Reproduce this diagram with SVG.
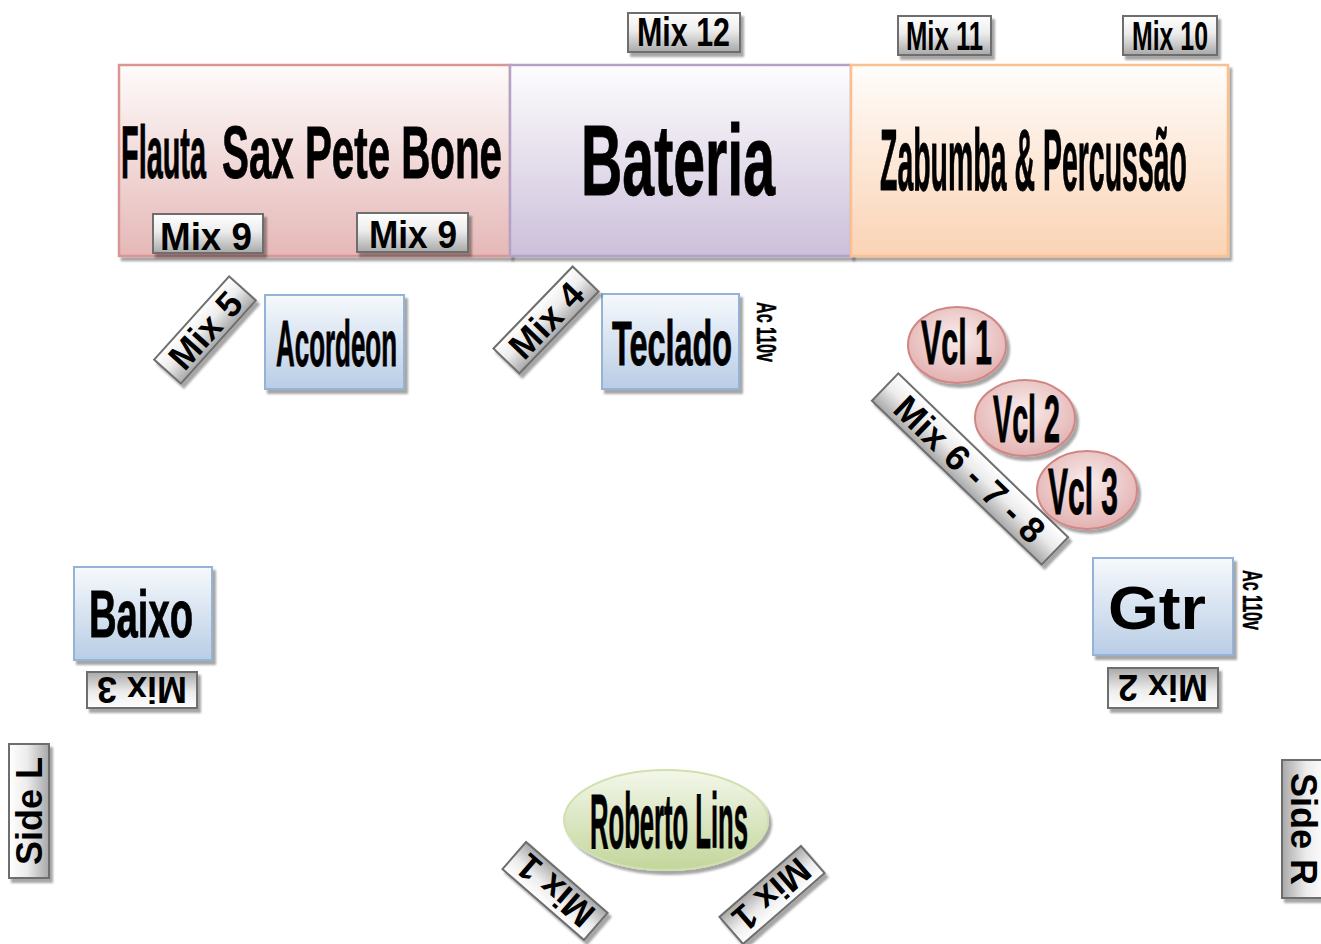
<svg xmlns="http://www.w3.org/2000/svg" width="1321" height="944" viewBox="0 0 1321 944">
<defs>
<linearGradient id="gMon" x1="0" y1="0" x2="0" y2="1"><stop offset="0" stop-color="#ffffff"/><stop offset="0.45" stop-color="#ececec"/><stop offset="1" stop-color="#a8a8a8"/></linearGradient>
<linearGradient id="gPink" x1="0" y1="0" x2="0" y2="1"><stop offset="0" stop-color="#fefbfb"/><stop offset="1" stop-color="#e5b8b7"/></linearGradient>
<linearGradient id="gPurple" x1="0" y1="0" x2="0" y2="1"><stop offset="0" stop-color="#fefdfe"/><stop offset="1" stop-color="#ccc0da"/></linearGradient>
<linearGradient id="gOrange" x1="0" y1="0" x2="0" y2="1"><stop offset="0" stop-color="#fffdfb"/><stop offset="1" stop-color="#fad3b4"/></linearGradient>
<linearGradient id="gBlue" x1="0" y1="0" x2="0" y2="1"><stop offset="0" stop-color="#f6f9fc"/><stop offset="1" stop-color="#b9cde5"/></linearGradient>
<radialGradient id="gVcl" cx="0.5" cy="0.4" r="0.6"><stop offset="0" stop-color="#f9eded"/><stop offset="1" stop-color="#e3b2b1"/></radialGradient>
<linearGradient id="gGreen" x1="0" y1="0" x2="0" y2="1"><stop offset="0" stop-color="#f3f7ea"/><stop offset="1" stop-color="#c3d69b"/></linearGradient>
<filter id="sh" x="-20%" y="-20%" width="140%" height="140%"><feDropShadow dx="3" dy="4" stdDeviation="1.2" flood-color="#000" flood-opacity="0.35"/></filter>
<style>
text{font-family:"Liberation Sans",Arial,sans-serif;font-weight:bold;fill:#000}
.big{stroke:#000;stroke-width:0.9}
.mon{fill:url(#gMon);stroke:#6e6e6e;stroke-width:2}
.blue{fill:url(#gBlue);stroke:#95b3d7;stroke-width:2}
.vcl{fill:url(#gVcl);stroke:#d08684;stroke-width:2}
.mt{font-size:36px;text-anchor:middle}
</style>
</defs>
<rect width="1321" height="944" fill="#ffffff"/>
<g id="connectors"/>

<g id="sopros">
<rect x="119" y="65" width="391" height="191" fill="url(#gPink)" stroke="#d99694" stroke-width="2.5" filter="url(#sh)"/>
<text class="big" x="121" y="178" font-size="74" textLength="85" lengthAdjust="spacingAndGlyphs">Flauta</text>
<text class="big" x="222" y="178" font-size="74" textLength="280" lengthAdjust="spacingAndGlyphs">Sax Pete Bone</text>
</g>
<g id="bateria">
<rect x="510" y="65" width="341" height="191" fill="url(#gPurple)" stroke="#b3a2c7" stroke-width="2.5" filter="url(#sh)"/>
<text class="big" x="581" y="195" font-size="101" textLength="194" lengthAdjust="spacingAndGlyphs">Bateria</text>
</g>
<g id="zabumba">
<rect x="851" y="65" width="377" height="191" fill="url(#gOrange)" stroke="#fac090" stroke-width="2.5" filter="url(#sh)"/>
<text class="big" x="880" y="190" font-size="87" textLength="307" lengthAdjust="spacingAndGlyphs">Zabumba &amp; Percussão</text>
</g>

<g id="mix12"><rect class="mon" x="628" y="13" width="112" height="39" filter="url(#sh)"/>
<text x="637" y="46" font-size="40" textLength="93" lengthAdjust="spacingAndGlyphs">Mix 12</text></g>
<g id="mix11"><rect class="mon" x="898" y="16" width="93" height="39" filter="url(#sh)"/>
<text x="906" y="50" font-size="41" textLength="77" lengthAdjust="spacingAndGlyphs">Mix 11</text></g>
<g id="mix10"><rect class="mon" x="1123" y="16" width="94" height="39" filter="url(#sh)"/>
<text x="1132" y="50" font-size="41" textLength="76" lengthAdjust="spacingAndGlyphs">Mix 10</text></g>
<g id="mix9a"><rect class="mon" x="153" y="214" width="110" height="39" filter="url(#sh)"/>
<text x="160" y="250" font-size="39" textLength="92" lengthAdjust="spacingAndGlyphs">Mix 9</text></g>
<g id="mix9b"><rect class="mon" x="357" y="213" width="111" height="39" filter="url(#sh)"/>
<text x="369" y="248" font-size="38" textLength="88" lengthAdjust="spacingAndGlyphs">Mix 9</text></g>

<g id="acordeon"><rect class="blue" x="265" y="295" width="139" height="94" filter="url(#sh)"/>
<text class="big" x="276" y="366" font-size="64" textLength="121" lengthAdjust="spacingAndGlyphs">Acordeon</text></g>
<g id="mix5"><g filter="url(#sh)"><rect class="mon" x="-56" y="-18" width="112" height="36" transform="translate(205,330) rotate(-48)"/></g>
<text class="mt" transform="translate(205,330) rotate(-48)" y="13">Mix 5</text></g>

<g id="teclado"><rect class="blue" x="602" y="294" width="137" height="95" filter="url(#sh)"/>
<text class="big" x="612" y="365" font-size="63" textLength="120" lengthAdjust="spacingAndGlyphs">Teclado</text>
<text class="big" transform="translate(757,302) rotate(90)" font-size="28" textLength="60" lengthAdjust="spacingAndGlyphs" style="stroke-width:0.5">Ac 110v</text></g>
<g id="mix4"><g filter="url(#sh)"><rect class="mon" x="-57" y="-18" width="114" height="36" transform="translate(546,320) rotate(-46)"/></g>
<text class="mt" transform="translate(546,320) rotate(-46)" y="13">Mix 4</text></g>

<g id="mix678"><g filter="url(#sh)"><rect class="mon" x="-118" y="-19" width="236" height="38" transform="translate(970,469) rotate(44)"/></g>
<text class="mt" transform="translate(970,469) rotate(44)" y="13">Mix 6 - 7 - 8</text></g>
<g id="vcl1"><ellipse class="vcl" cx="957" cy="345" rx="49" ry="38" filter="url(#sh)"/>
<text class="big" x="921" y="364" font-size="63" textLength="71" lengthAdjust="spacingAndGlyphs">Vcl 1</text></g>
<g id="vcl2"><ellipse class="vcl" cx="1025" cy="418" rx="50" ry="38" filter="url(#sh)"/>
<text class="big" x="993" y="442" font-size="66" textLength="67" lengthAdjust="spacingAndGlyphs">Vcl 2</text></g>
<g id="vcl3"><ellipse class="vcl" cx="1087" cy="490" rx="50" ry="39" filter="url(#sh)"/>
<text class="big" x="1048" y="514" font-size="65" textLength="70" lengthAdjust="spacingAndGlyphs">Vcl 3</text></g>

<g id="baixo"><rect class="blue" x="74" y="567" width="138" height="93" filter="url(#sh)"/>
<text class="big" x="89" y="637" font-size="66" textLength="104" lengthAdjust="spacingAndGlyphs">Baixo</text></g>
<g id="mix3"><g filter="url(#sh)"><rect class="mon" x="-55" y="-18" width="110" height="36" transform="translate(142,690) rotate(180)"/></g>
<text class="mt" transform="translate(142,690) rotate(180)" y="13">Mix 3</text></g>

<g id="gtr"><rect class="blue" x="1093" y="558" width="140" height="97" filter="url(#sh)"/>
<text x="1108" y="629" font-size="62" textLength="98" lengthAdjust="spacingAndGlyphs">Gtr</text>
<text class="big" transform="translate(1243,570) rotate(90)" font-size="28" textLength="60" lengthAdjust="spacingAndGlyphs" style="stroke-width:0.5">Ac 110v</text></g>
<g id="mix2"><g filter="url(#sh)"><rect class="mon" x="-55" y="-20" width="110" height="40" transform="translate(1163,688) rotate(180)"/></g>
<text class="mt" transform="translate(1163,688) rotate(180)" y="13">Mix 2</text></g>

<g id="sideL"><g filter="url(#sh)"><rect class="mon" x="-67" y="-20" width="134" height="40" transform="translate(29,811) rotate(-90)"/></g>
<text class="mt" transform="translate(29,811) rotate(-90)" y="13">Side L</text></g>
<g id="sideR"><g filter="url(#sh)"><rect class="mon" x="-69" y="-22" width="138" height="44" transform="translate(1304,829) rotate(90)"/></g>
<text class="mt" transform="translate(1304,829) rotate(90)" y="13">Side R</text></g>

<g id="roberto"><ellipse cx="666" cy="820" rx="102" ry="50" fill="url(#gGreen)" stroke="#d0e0ae" stroke-width="2" filter="url(#sh)"/>
<text class="big" x="590" y="848" font-size="77" textLength="158" lengthAdjust="spacingAndGlyphs">Roberto Lins</text></g>
<g id="mix1L"><g filter="url(#sh)"><rect class="mon" x="-54" y="-18" width="108" height="36" transform="translate(555,891) rotate(221)"/></g>
<text class="mt" transform="translate(555,891) rotate(221)" y="13">Mix 1</text></g>
<g id="mix1R"><g filter="url(#sh)"><rect class="mon" x="-54" y="-18" width="108" height="36" transform="translate(772,895) rotate(139)"/></g>
<text class="mt" transform="translate(772,895) rotate(139)" y="13">Mix 1</text></g>
</svg>
